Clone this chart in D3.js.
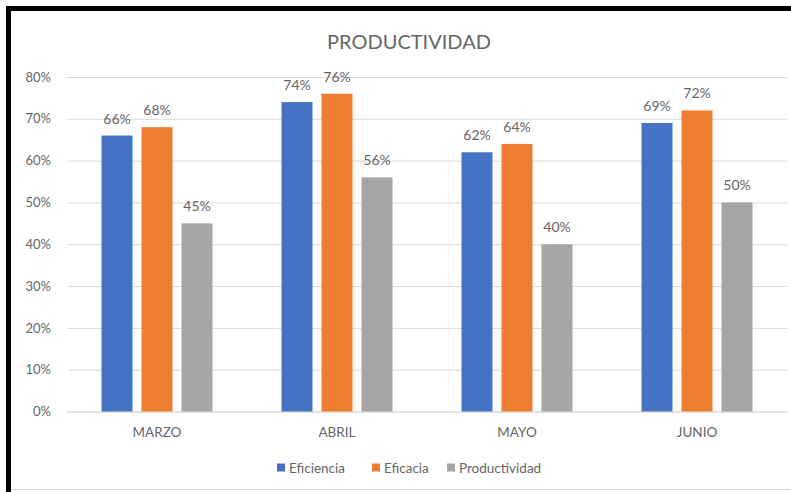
<!DOCTYPE html>
<html>
<head>
<meta charset="utf-8">
<script src="https://cdn.jsdelivr.net/npm/d3@7"></script>
<style>
  html, body { margin: 0; padding: 0; background: #fff; }
  svg { display: block; }
  text { font-family: Lato, "Open Sans", "Liberation Sans", sans-serif; fill: #666; }
</style>
</head>
<body>
<svg id="chart" width="791" height="492"></svg>
<script>
// Monthly indicators
const months = ["MARZO", "ABRIL", "MAYO", "JUNIO"];
const seriesNames = ["Eficiencia", "Eficacia", "Productividad"];
const eficiencia = [66, 74, 62, 69];
const eficacia = [68, 76, 64, 72];
const productividad = [45, 56, 40, 50];
const yTicks = [0, 10, 20, 30, 40, 50, 60, 70, 80];
const colors = ["#4472C4", "#ED7D31", "#A5A5A5"];

const seriesValues = [eficiencia, eficacia, productividad];

const svg = d3.select("#chart");

// Frame: heavy black border on top/left, light border on the bottom
svg.append("line").attr("x1", 11).attr("x2", 791).attr("y1", 489.5).attr("y2", 489.5)
  .attr("stroke", "#d9d9d9").attr("stroke-width", 1);
svg.append("rect").attr("x", 6).attr("y", 6).attr("width", 5).attr("height", 486).attr("fill", "#000");
svg.append("rect").attr("x", 6).attr("y", 6).attr("width", 785).attr("height", 5).attr("fill", "#000");

const plot = { left: 67, right: 787, top: 77, bottom: 411.5 };

const y = d3.scaleLinear().domain([0, 80]).range([plot.bottom, plot.top]);
const x0 = d3.scaleBand().domain(months).range([plot.left, plot.right])
  .paddingInner(1 / 3).paddingOuter(1 / 6);
const x1 = d3.scaleBand().domain(seriesNames).range([0, x0.bandwidth()])
  .paddingInner(0.225).paddingOuter(0.1125);

const fontStack = "Lato, 'Open Sans', sans-serif";

// Gridlines and y tick labels
const yAxis = d3.axisLeft(y).tickValues(yTicks).tickSize(-(plot.right - plot.left))
  .tickFormat(d => d + "%").tickPadding(16);
const gy = svg.append("g").attr("transform", `translate(${plot.left},0)`).call(yAxis);
gy.select(".domain").remove();
gy.selectAll(".tick line").attr("stroke", "#d9d9d9").attr("stroke-width", 1);
gy.selectAll(".tick text").style("font-size", "13px").style("fill", "#666")
  .style("font-family", fontStack);

// Category axis
const xAxis = d3.axisBottom(x0).tickSize(0).tickPadding(16);
const gx = svg.append("g").attr("transform", `translate(0,${plot.bottom})`).call(xAxis);
gx.select(".domain").attr("stroke", "#d9d9d9");
gx.selectAll(".tick text").style("font-size", "13.5px").style("fill", "#666")
  .style("font-family", fontStack);

// Bars with value labels
const groups = svg.append("g").selectAll("g").data(months).join("g")
  .attr("transform", m => `translate(${x0(m)},0)`);

groups.each(function (m, i) {
  const g = d3.select(this);
  const rows = seriesNames.map((s, k) => ({ s, k, v: seriesValues[k][i] }));
  g.selectAll("rect").data(rows).join("rect")
    .attr("x", d => x1(d.s))
    .attr("y", d => y(d.v))
    .attr("width", x1.bandwidth())
    .attr("height", d => plot.bottom - y(d.v))
    .attr("fill", d => colors[d.k]);
  g.selectAll("text.lbl").data(rows).join("text").attr("class", "lbl")
    .attr("x", d => x1(d.s) + x1.bandwidth() / 2)
    .attr("y", d => y(d.v) - 12)
    .attr("text-anchor", "middle")
    .style("font-size", "14px")
    .text(d => d.v + "%");
});

// Title
svg.append("text").attr("x", 409).attr("y", 49).attr("text-anchor", "middle")
  .style("font-size", "20px").text("PRODUCTIVIDAD");

// Legend
const legendX = [277, 372, 447];
const legend = svg.append("g").selectAll("g").data(seriesNames).join("g")
  .attr("transform", (d, i) => `translate(${legendX[i]},463)`);
legend.append("rect").attr("width", 8).attr("height", 8).attr("y", 0.5)
  .attr("fill", (d, i) => colors[i]);
legend.append("text").attr("x", 12).attr("y", 9.5).style("font-size", "13.5px").text(d => d);
</script>
</body>
</html>
